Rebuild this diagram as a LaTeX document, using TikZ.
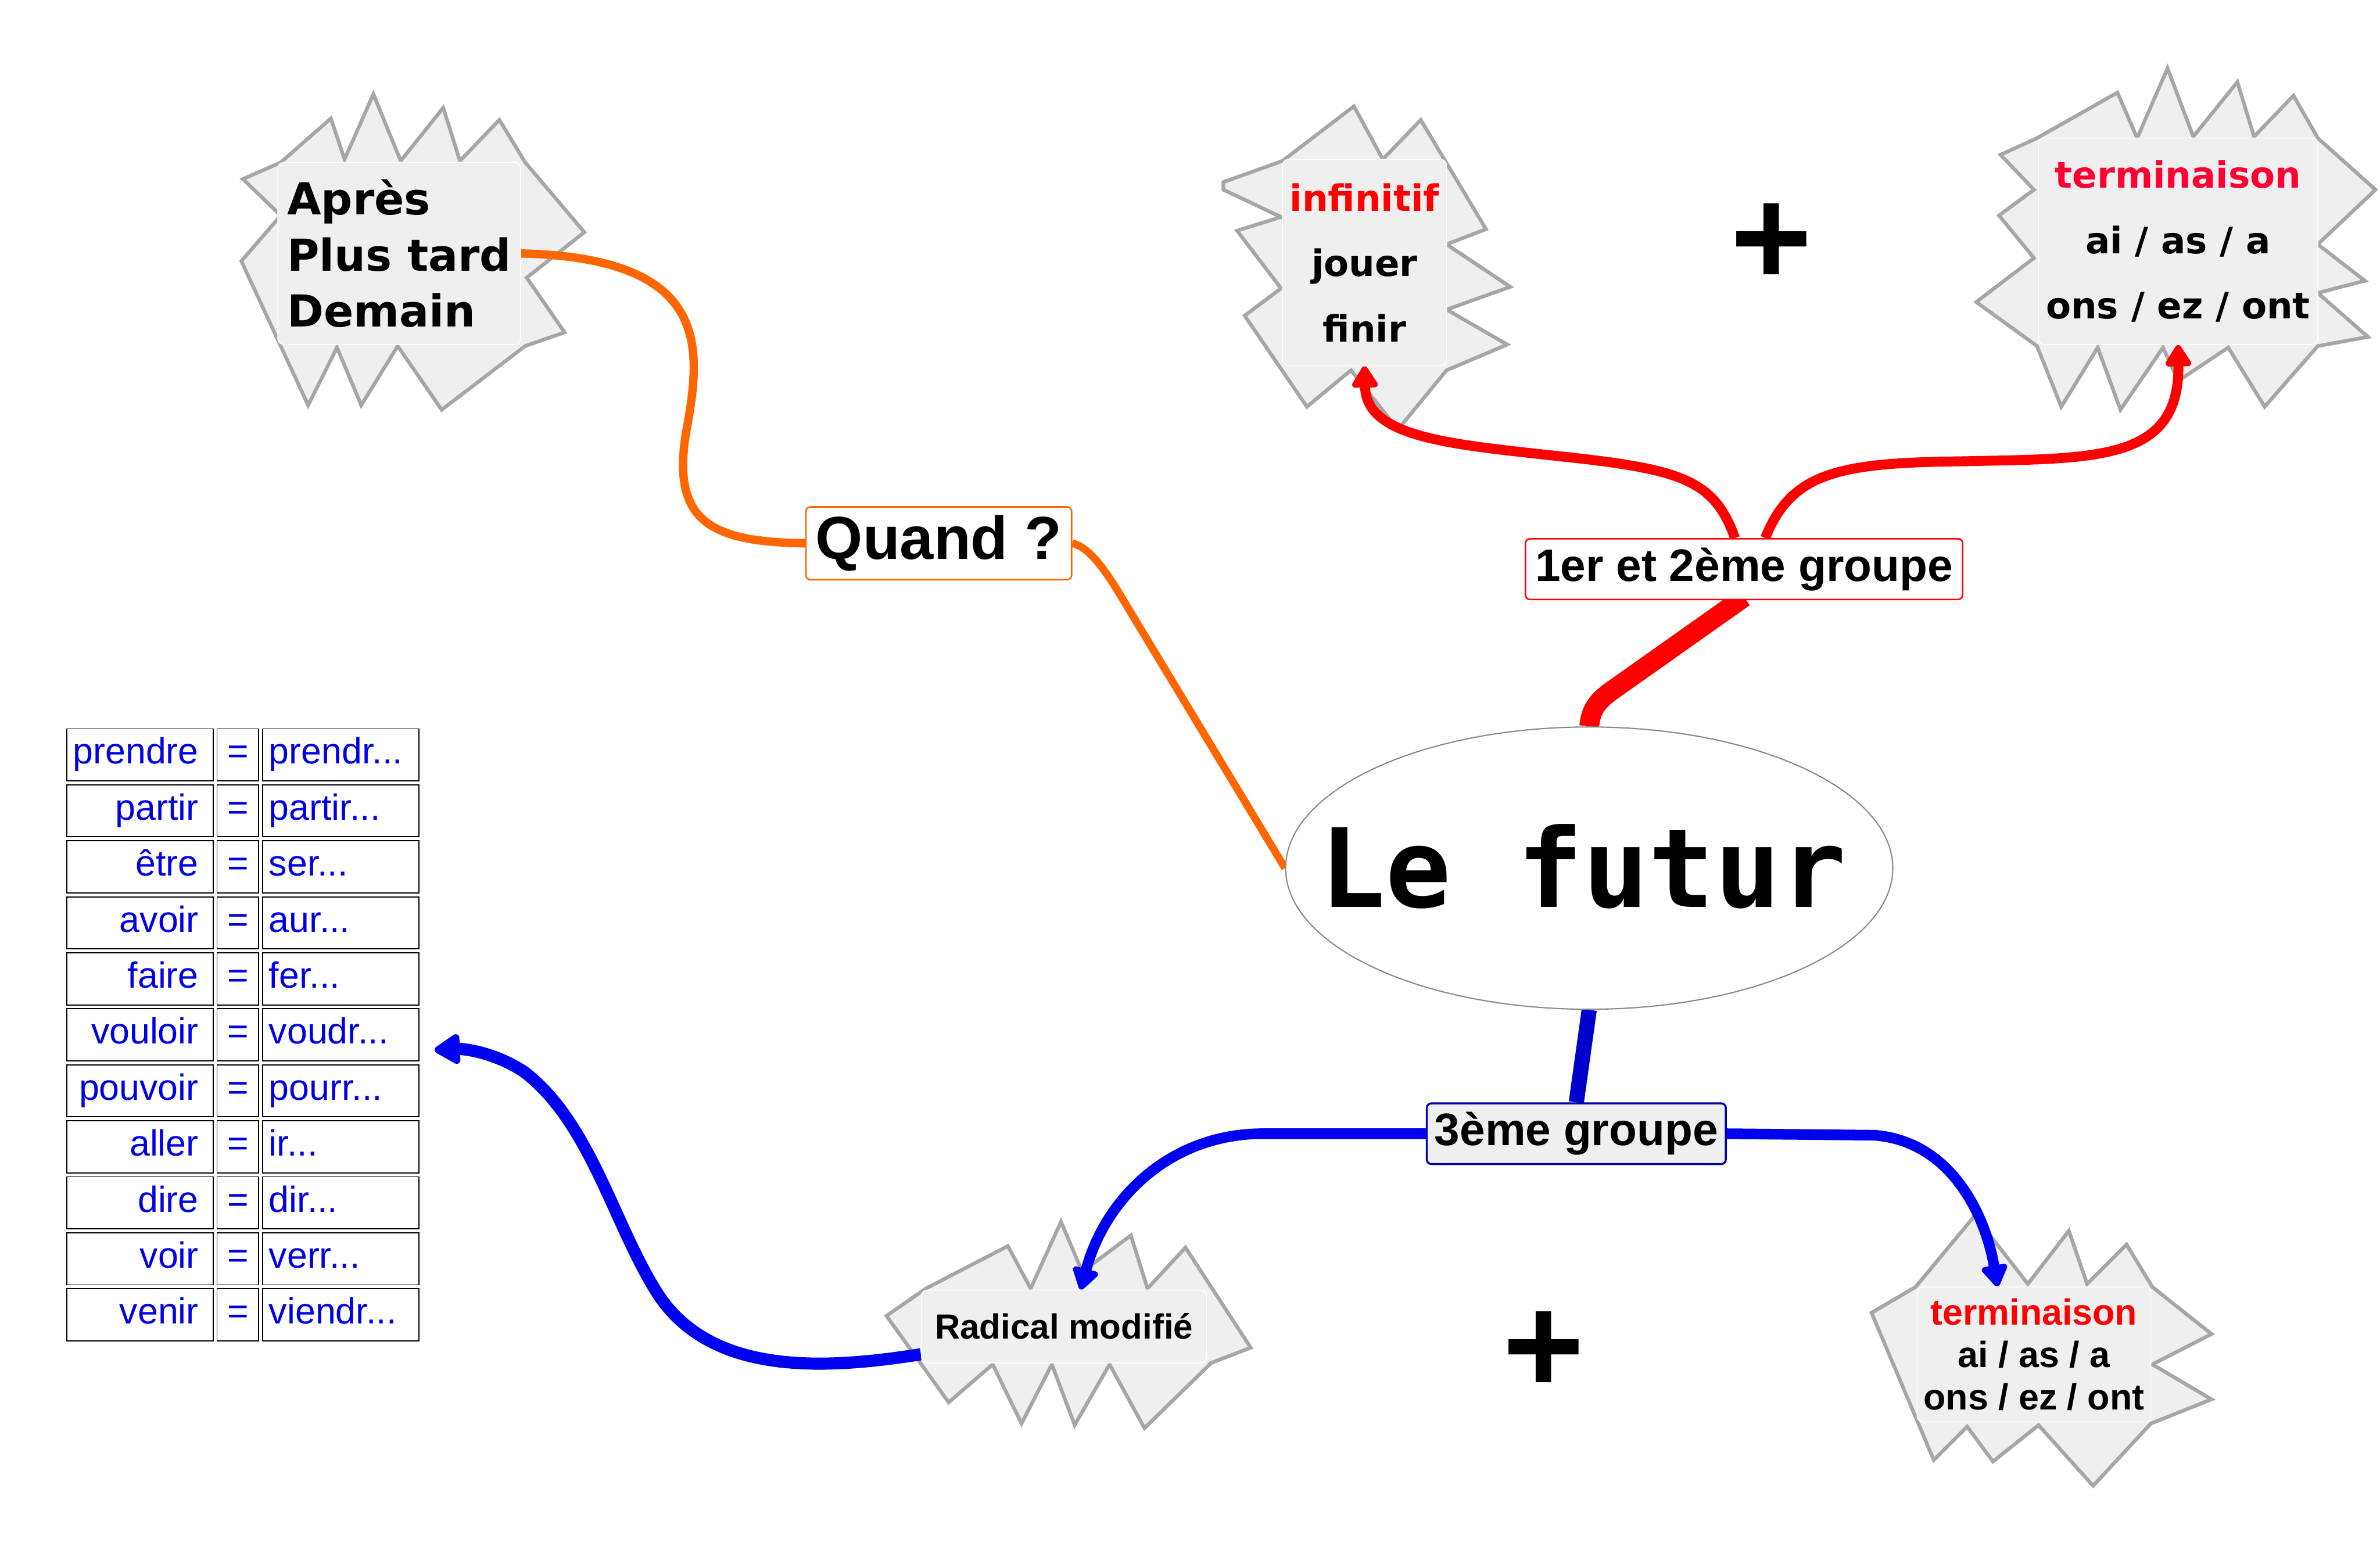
\documentclass[tikz,border=0pt]{standalone}
\usepackage{fontspec}
\setmainfont{DejaVu Sans}
\newfontfamily\djv{DejaVu Sans}
\newfontfamily\djvmono{DejaVu Sans Mono}
\newfontfamily\arial{Liberation Sans}
\usetikzlibrary{arrows.meta,shapes.geometric,calc}
\pgfdeclarelayer{bg}
\pgfdeclarelayer{mid}
\pgfsetlayers{bg,mid,main}
\definecolor{burstfill}{HTML}{EFEFEF}
\definecolor{burstline}{HTML}{A6A6A6}
\definecolor{orng}{HTML}{FF6600}
\definecolor{rd}{HTML}{FF0000}
\definecolor{crim}{HTML}{FF0033}
\definecolor{bl}{HTML}{0000F0}
\definecolor{blstem}{HTML}{0000CC}
\definecolor{navy}{HTML}{0000AA}
\definecolor{tbl}{HTML}{0000E6}
\definecolor{ellgray}{HTML}{888888}
\newcommand\tdots{...}
\tikzset{
  burst/.style={fill=burstfill, draw=burstline, line width=2.4pt, line join=miter},
  inner/.style={rectangle, rounded corners=4pt, fill=burstfill, draw=white, line width=0.6pt, inner sep=0pt},
  topic/.style={rectangle, rounded corners=3pt, inner sep=0pt},
  cell/.style={rectangle, draw=black, line width=0.7pt, minimum height=34.3pt, inner sep=0pt},
  celltext/.style={inner sep=0pt, text height=17pt, text depth=5pt, font=\arial\fontsize{24}{27}\selectfont, text=tbl},
  rtip/.style={-{Triangle[round,length=16pt,width=19pt]}},
  btip/.style={-{Triangle[round,length=19pt,width=22pt]}},
  plussign/.style={inner sep=0pt, font=\arial\bfseries\fontsize{92}{92}\selectfont}
}
\begin{document}
\begin{tikzpicture}[x=1pt,y=-1pt]
\useasboundingbox (0,0) rectangle (1568,1030.2);
\begin{pgfonlayer}{bg}
\fill[white] (0,0) rectangle (1568,1030.2);
% starbursts
\draw[burst] (160,118) -- (185,107) -- (218,78) -- (227,105) -- (246,62) -- (264,106) -- (292,71) -- (303,106) -- (329,79) -- (346,107) -- (385,153) -- (347,183) -- (372,219) -- (346,228) -- (291,270) -- (262,228) -- (238,267) -- (222,229) -- (203,267) -- (159,172) -- (185,142) -- cycle;
\draw[burst] (806,120) -- (845,106) -- (892,70) -- (911,105) -- (936,79) -- (979,151) -- (953,161) -- (995,189) -- (953,204) -- (993,227) -- (953,244) -- (921,283) -- (890,244) -- (861,268) -- (820,208) -- (844,190) -- (815,152) -- (844,143) -- (806,125) -- cycle;
\draw[burst] (1318,102) -- (1342,91) -- (1395,61) -- (1408,91) -- (1428,45) -- (1445,90) -- (1474,54) -- (1485,90) -- (1511,63) -- (1527,91) -- (1565,125) -- (1527,161) -- (1558,185) -- (1527,193) -- (1560,222) -- (1527,228) -- (1492,268) -- (1468,229) -- (1435,251) -- (1425,229) -- (1397,270) -- (1382,229) -- (1358,268) -- (1342,228) -- (1302,199) -- (1340,170) -- (1317,142) -- (1340,125) -- cycle;
\draw[burst] (584,867) -- (610,849) -- (664,821) -- (679,849) -- (699,805) -- (713,838) -- (745,814) -- (756,849) -- (781,822) -- (824,888) -- (798,898) -- (754,941) -- (731,899) -- (708,939) -- (693,899) -- (673,938) -- (654,899) -- (625,924) -- cycle;
\draw[burst] (1233,865) -- (1262,848) -- (1301,801) -- (1336,846) -- (1363,811) -- (1375,846) -- (1401,820) -- (1418,848) -- (1457,879) -- (1418,899) -- (1457,922) -- (1417,938) -- (1379,979) -- (1343,939) -- (1313,963) -- (1296,940) -- (1274,962) -- cycle;
\end{pgfonlayer}

% inner boxes of the starbursts
\node[inner, minimum width=160pt, minimum height=120pt, align=left,
      font=\djv\bfseries\fontsize{29}{37}\selectfont] (apres) at (263,167) {Après\\Plus tard\\Demain};
\node[inner, minimum width=108pt, minimum height=136pt, align=center,
      font=\djv\bfseries\fontsize{24}{43}\selectfont] (inf) at (899,173) {\textcolor{rd}{infinitif}\\jouer\\finir};
\node[inner, minimum width=184pt, minimum height=136pt, align=center,
      font=\djv\bfseries\fontsize{24}{43}\selectfont] (term1) at (1435,159) {\textcolor{crim}{terminaison}\\ai / as / a\\ons / ez / ont};
\node[inner, minimum width=188pt, minimum height=48pt,
      font=\arial\bfseries\fontsize{23}{28}\selectfont] (rad) at (701,874) {Radical modifié};
\node[inner, minimum width=154pt, minimum height=89pt, align=center,
      font=\arial\bfseries\fontsize{24}{28}\selectfont] (term2) at (1340,892.5) {\textcolor{rd}{terminaison}\\ai / as / a\\ons / ez / ont};

% topics
\node[topic, draw=orng, line width=1pt, fill=white, minimum width=175pt, minimum height=48pt,
      font=\arial\bfseries\fontsize{40}{46}\selectfont] (quand) at (618.5,358) {Quand ?};
\node[topic, draw=rd, line width=1pt, fill=white, minimum width=288pt, minimum height=40pt,
      font=\arial\bfseries\fontsize{30}{36}\selectfont] (g12) at (1149,375) {1er et 2ème groupe};
\node[topic, draw=navy, line width=1.3pt, fill=burstfill, minimum width=197pt, minimum height=40pt,
      font=\arial\bfseries\fontsize{30}{36}\selectfont] (g3) at (1038.5,747) {3ème groupe};
\node[ellipse, draw=ellgray, line width=0.8pt, fill=white, minimum width=400pt, minimum height=186pt,
      inner sep=0pt] (fut) at (1047,572) {};
\node[inner sep=0pt, font=\djvmono\bfseries\fontsize{72}{80}\selectfont] (futtxt) at (1043,571) {Le futur};

% plus signs
\node[plussign] (plus1) at (1167,161) {+};
\node[plussign] (plus2) at (1017,891) {+};

% table
\foreach \leftw/\rightw [count=\i from 0] in {prendre/prendr\tdots,partir/partir\tdots,être/ser\tdots,avoir/aur\tdots,faire/fer\tdots,vouloir/voudr\tdots,pouvoir/pourr\tdots,aller/ir\tdots,dire/dir\tdots,voir/verr\tdots,venir/viendr\tdots}{
  \pgfmathsetmacro\yy{497.35+36.9*\i}
  \node[cell, minimum width=96.4pt] (tl\i) at (92.2,\yy) {};
  \node[cell, minimum width=27.4pt] (te\i) at (156.7,\yy) {};
  \node[cell, minimum width=103pt] (tr\i) at (224.5,\yy) {};
  \node[celltext, anchor=east] (tlt\i) at (131,\yy) {\leftw};
  \node[celltext] (tet\i) at (156.7,\yy) {=};
  \node[celltext, anchor=west] (trt\i) at (177,\yy) {\rightw};
}
\coordinate (tabtip) at ($(tr5.east)+(10,10)$);

% connectors
\begin{pgfonlayer}{mid}
\draw[orng, line width=5.5pt] (apres.east) .. controls (470,170) and (462,230) .. (452,285) .. controls (442,345) and (470,357) .. (quand.west);
\draw[orng, line width=5pt] (quand.east) .. controls (716,360) and (726,372) .. (738,392) -- (fut.west);
\draw[rd, line width=13pt] (fut.north) .. controls (1048,468) and (1052,462) .. (1062,455) -- ($(g12.south)+(0,-2)$);
\draw[rd, line width=6.5pt, rtip] ($(g12.north)+(-6,0)$) .. controls (1130,318) and (1110,310) .. (1040,302) .. controls (960,293) and (900,290) .. (inf.south);
\draw[rd, line width=6.5pt, rtip] ($(g12.north)+(14,0)$) .. controls (1180,312) and (1210,305) .. (1290,304) .. controls (1380,302) and (1436,305) .. (term1.south);
\draw[blstem, line width=10pt] (fut.south) -- (g3.north);
\draw[bl, line width=7pt, rtip] (g3.west) -- (830,747) .. controls (770,748) and (728,790) .. ($(rad.north)+(11,0)$);
\draw[bl, line width=7pt, rtip] (g3.east) -- (1235,748) .. controls (1285,752) and (1308,800) .. ($(term2.north)+(-24,0)$);
\draw[bl, line width=8pt, btip] ($(rad.south west)+(0,-6)$) .. controls (540,903) and (470,905) .. (435,855) .. controls (405,810) and (390,740) .. (345,706) .. controls (325,693) and (305,691) .. (tabtip);
\end{pgfonlayer}
\end{tikzpicture}
\end{document}
